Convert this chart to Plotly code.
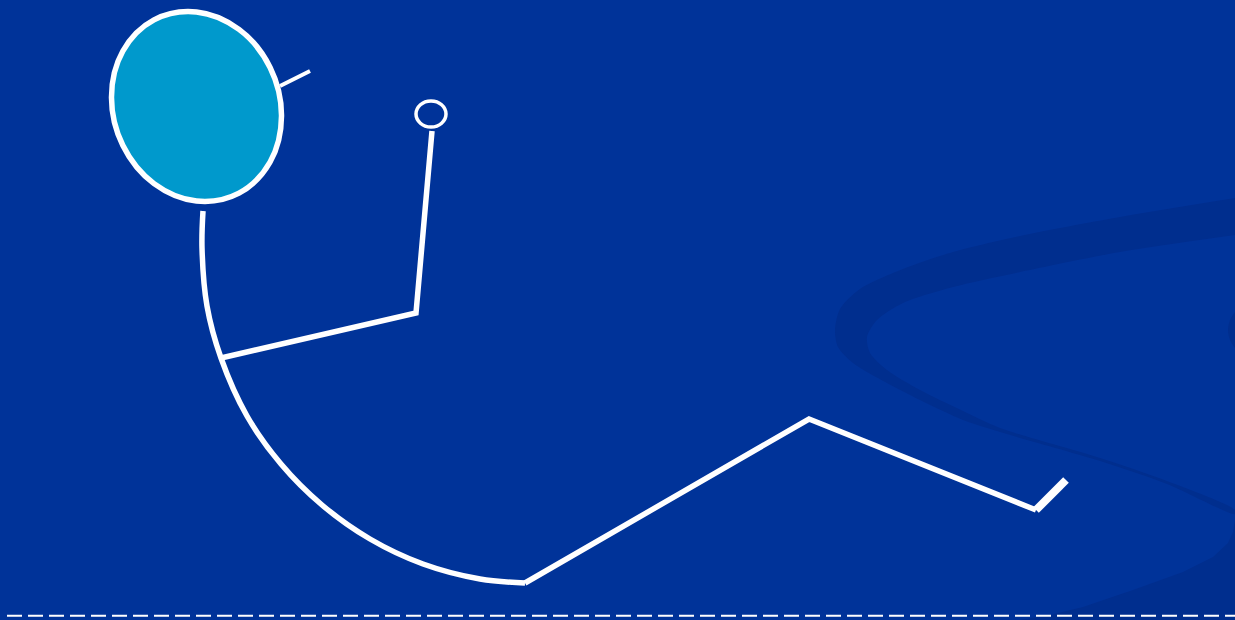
import plotly.graph_objects as go

BG = "#003399"
SWOOSH = "#002E8E"
HEAD_FILL = "#0099CC"
WHITE = "#FFFFFF"

# Background swoosh (crescent) outline
SWOOSH_X = [1235, 1120, 1020, 953, 903, 860, 840, 835, 838, 853, 887, 920, 963, 1000, 1100, 1167, 1235,
            1235, 1167, 1100, 1000, 963, 920, 887, 870, 867, 877, 903, 953, 1020, 1120, 1235]
SWOOSH_Y = [198, 217, 236, 252, 269, 289, 309, 330, 347, 363, 383, 400, 420, 432, 461, 484, 514,
            510, 481, 458, 428, 411, 390, 370, 353, 337, 320, 303, 287, 272, 252, 235]
# Lower-right dark region
LOWER_X = [1235, 1233, 1228, 1213, 1183, 1133, 1083, 1050, 1020, 1235, 1235]
LOWER_Y = [520, 532, 543, 557, 572, 590, 607, 615, 620, 620, 520]
# Small dark bit at right edge
EDGE_X = [1235, 1230, 1228, 1230, 1235]
EDGE_Y = [312, 320, 330, 340, 348]

# Figure parts
HEAD_X = [281.5, 270.1, 239.0, 196.5, 154.0, 122.9, 111.5, 122.9, 154.0, 196.5, 239.0, 270.1, 281.5]
HEAD_Y = [116.0, 162.0, 193.1, 201.0, 183.6, 145.5, 97.0, 51.0, 19.9, 12.0, 29.4, 67.5, 116.0]
EAR_X = [280, 310]
EAR_Y = [86, 71]
HAND_X = [446, 441.6, 431, 420.4, 416, 420.4, 431, 441.6, 446]
HAND_Y = [114, 123.2, 127, 123.2, 114, 104.8, 101, 104.8, 114]
ARM_X = [432, 416, 221]
ARM_Y = [131, 313, 358]
BODY_X = [203, 202, 207, 221, 247, 281, 322, 370, 423, 480, 525]
BODY_Y = [211, 248, 306, 358, 416, 464, 505, 539, 564, 579, 583]
LEG_X = [525, 809, 1036]
LEG_Y = [583, 419, 510]
FOOT_X = [1036, 1066]
FOOT_Y = [510, 480]
DASH_X = [7, 1240]
DASH_Y = [615.7, 615.7]

fig = go.Figure()

def add(x, y, **kw):
    fig.add_trace(go.Scatter(x=x, y=y, mode="lines", hoverinfo="skip", showlegend=False, **kw))

add(SWOOSH_X, SWOOSH_Y, fill="toself", fillcolor=SWOOSH, line=dict(width=0, color=SWOOSH, shape="spline", smoothing=0.8))
add(LOWER_X, LOWER_Y, fill="toself", fillcolor=SWOOSH, line=dict(width=0, color=SWOOSH))
add(EDGE_X, EDGE_Y, fill="toself", fillcolor=SWOOSH, line=dict(width=0, color=SWOOSH, shape="spline"))

add(DASH_X, DASH_Y, line=dict(color=WHITE, width=2, dash="15px,6px"))

add(BODY_X, BODY_Y, line=dict(color=WHITE, width=5.5, shape="spline"))
add(ARM_X, ARM_Y, line=dict(color=WHITE, width=5.5))
add(LEG_X, LEG_Y, line=dict(color=WHITE, width=5.5))
add(FOOT_X, FOOT_Y, line=dict(color=WHITE, width=8))
add(EAR_X, EAR_Y, line=dict(color=WHITE, width=4))
add(HAND_X, HAND_Y, line=dict(color=WHITE, width=3.5, shape="spline"))
add(HEAD_X, HEAD_Y, fill="toself", fillcolor=HEAD_FILL, line=dict(color=WHITE, width=5.5, shape="spline"))

fig.update_layout(
    width=1235, height=620,
    margin=dict(l=0, r=0, t=0, b=0),
    paper_bgcolor=BG, plot_bgcolor=BG,
    xaxis=dict(range=[0, 1235], visible=False, showgrid=False, zeroline=False, fixedrange=True),
    yaxis=dict(range=[620, 0], visible=False, showgrid=False, zeroline=False, fixedrange=True),
    hovermode=False,
)

fig.write_html(
    "out.html",
    config={"displayModeBar": False},
    post_script="document.body.style.margin='0';document.body.style.overflow='hidden';document.body.style.background='#003399';",
)
